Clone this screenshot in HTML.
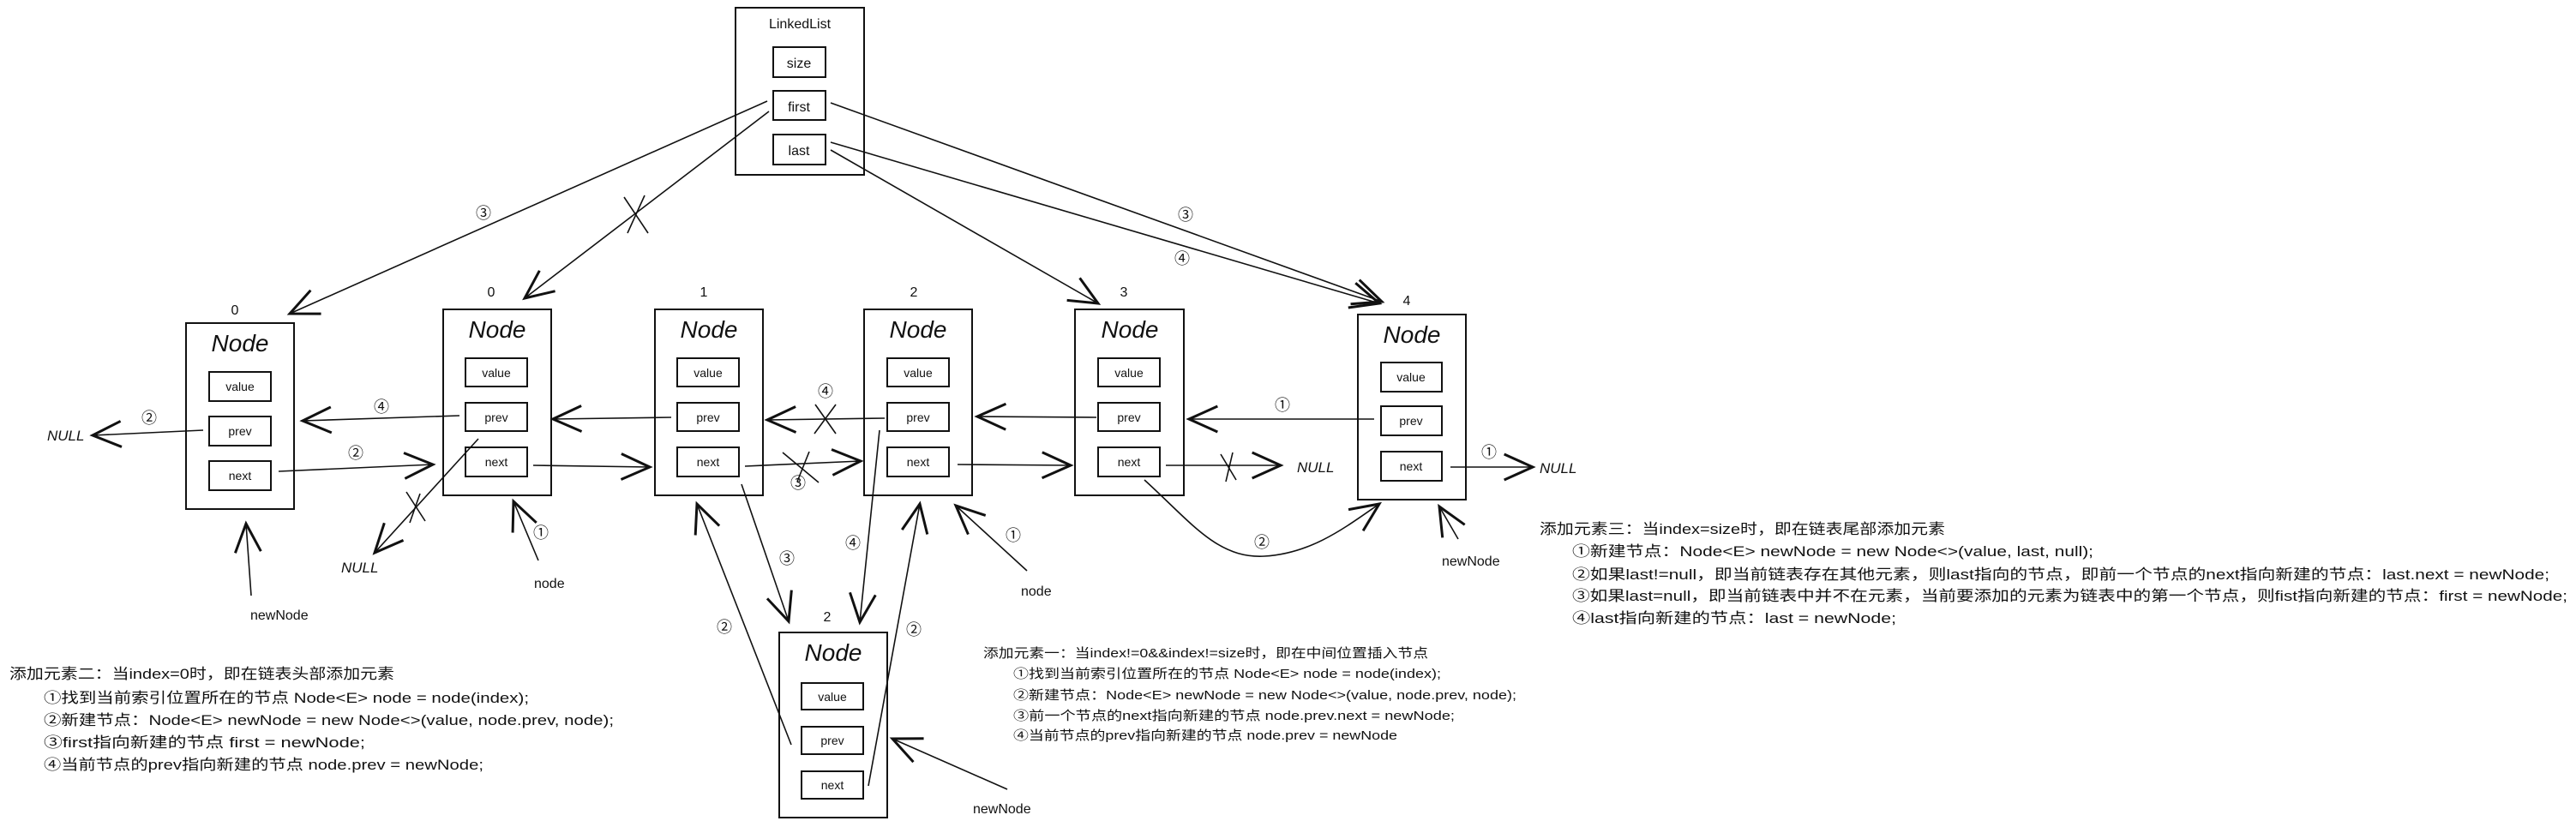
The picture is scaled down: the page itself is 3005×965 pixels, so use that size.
<!DOCTYPE html>
<html><head><meta charset="utf-8"><style>
html,body{margin:0;padding:0;background:#fff;}
svg{display:block;}
text{font-family:"Liberation Sans","Noto Sans CJK SC",sans-serif;fill:#111;}
.n{font-size:28px;font-style:italic;text-anchor:middle;}
.f{font-size:14px;text-anchor:middle;}
.c{font-size:18px;text-anchor:middle;}
.t{font-size:17px;}
.m{font-size:15px;}
</style></head><body>
<svg width="3005" height="965" viewBox="0 0 3005 965" xmlns="http://www.w3.org/2000/svg">
<defs>
<marker id="a" markerUnits="userSpaceOnUse" markerWidth="40" markerHeight="40" refX="0" refY="0" viewBox="-22 -12 24 24" orient="auto" overflow="visible">
<path d="M-20,-9 L0,0 L-20,9" fill="none" stroke="#111" stroke-width="1.8"/>
</marker>
</defs>
<g fill="none" stroke="#111" stroke-width="2">
<!-- LinkedList -->
<rect x="858" y="9" width="150" height="195"/>
<rect x="902" y="55" width="61" height="35"/>
<rect x="902" y="106" width="61" height="34"/>
<rect x="902" y="157" width="61" height="35"/>
<!-- nodes -->
<rect x="217" y="377" width="126" height="217"/>
<rect x="244" y="434" width="72" height="34"/><rect x="244" y="486" width="72" height="34"/><rect x="244" y="538" width="72" height="34"/>
<rect x="517" y="361" width="126" height="217"/>
<rect x="543" y="418" width="72" height="33"/><rect x="543" y="470" width="72" height="33"/><rect x="543" y="522" width="72" height="34"/>
<rect x="764" y="361" width="126" height="217"/>
<rect x="790" y="418" width="72" height="33"/><rect x="790" y="470" width="72" height="33"/><rect x="790" y="522" width="72" height="34"/>
<rect x="1008" y="361" width="126" height="217"/>
<rect x="1035" y="418" width="72" height="33"/><rect x="1035" y="470" width="72" height="33"/><rect x="1035" y="522" width="72" height="34"/>
<rect x="1254" y="361" width="127" height="217"/>
<rect x="1281" y="418" width="72" height="33"/><rect x="1281" y="470" width="72" height="33"/><rect x="1281" y="522" width="72" height="34"/>
<rect x="1584" y="367" width="126" height="216"/>
<rect x="1611" y="423" width="71" height="34"/><rect x="1611" y="474" width="71" height="34"/><rect x="1611" y="527" width="71" height="34"/>
<rect x="909" y="738" width="126" height="216"/>
<rect x="935" y="797" width="72" height="31"/><rect x="935" y="848" width="72" height="32"/><rect x="935" y="900" width="72" height="32"/>
</g>
<g fill="none" stroke="#111" stroke-width="1.6" marker-end="url(#a)">
<line x1="895" y1="118" x2="338" y2="366"/>
<line x1="897" y1="130" x2="612" y2="348"/>
<line x1="237" y1="502" x2="108" y2="508"/>
<line x1="536" y1="485" x2="353" y2="491"/>
<line x1="325" y1="550" x2="505" y2="542"/>
<line x1="558" y1="512" x2="437" y2="645"/>
<line x1="783" y1="487" x2="645" y2="489"/>
<line x1="622" y1="543" x2="758" y2="545"/>
<line x1="1032" y1="488" x2="895" y2="490"/>
<line x1="869" y1="544" x2="1004" y2="538"/>
<line x1="865" y1="565" x2="920" y2="725"/>
<line x1="923" y1="869" x2="813" y2="588"/>
<line x1="293" y1="695" x2="287" y2="611"/>
<line x1="628" y1="654" x2="599" y2="585"/>
<line x1="969" y1="175" x2="1281" y2="354"/>
<line x1="969" y1="120" x2="1612" y2="352"/>
<line x1="969" y1="166" x2="1609" y2="354"/>
<line x1="1026" y1="502" x2="1003" y2="726"/>
<line x1="1013" y1="917" x2="1073" y2="588"/>
<line x1="1198" y1="666" x2="1115" y2="590"/>
<line x1="1279" y1="487" x2="1140" y2="486"/>
<line x1="1117" y1="542" x2="1249" y2="543"/>
<line x1="1360" y1="543" x2="1494" y2="543"/>
<path d="M1335,560 C1390,610 1420,652 1475,649 C1530,646 1570,615 1609,588"/>
<line x1="1603" y1="489" x2="1387" y2="489"/>
<line x1="1692" y1="545" x2="1788" y2="545"/>
<line x1="1701" y1="629" x2="1679" y2="591"/>
<line x1="1175" y1="921" x2="1041" y2="862"/>
</g>
<g stroke="#111" stroke-width="1.6">
<line x1="728" y1="230" x2="756" y2="272"/><line x1="752" y1="228" x2="732" y2="272"/>
<line x1="474" y1="574" x2="496" y2="608"/><line x1="490" y1="576" x2="478" y2="610"/>
<line x1="951" y1="472" x2="975" y2="506"/><line x1="975" y1="472" x2="950" y2="506"/>
<line x1="913" y1="528" x2="955" y2="563"/><line x1="930" y1="562" x2="944" y2="527"/>
<line x1="1424" y1="530" x2="1442" y2="560"/><line x1="1438" y1="528" x2="1430" y2="562"/>
</g>
<!-- labels -->
<text x="933" y="33" class="f" style="font-size:16px">LinkedList</text>
<text x="932" y="79" class="f" style="font-size:16px">size</text>
<text x="932" y="130" class="f" style="font-size:16px">first</text>
<text x="932" y="181" class="f" style="font-size:16px">last</text>
<g class="n">
<text x="280" y="410" class="n">Node</text><text x="580" y="394" class="n">Node</text><text x="827" y="394" class="n">Node</text>
<text x="1071" y="394" class="n">Node</text><text x="1318" y="394" class="n">Node</text><text x="1647" y="400" class="n">Node</text>
<text x="972" y="771" class="n">Node</text>
</g>
<text x="280" y="456" class="f">value</text><text x="280" y="508" class="f">prev</text><text x="280" y="560" class="f">next</text>
<text x="579" y="440" class="f">value</text><text x="579" y="492" class="f">prev</text><text x="579" y="544" class="f">next</text>
<text x="826" y="440" class="f">value</text><text x="826" y="492" class="f">prev</text><text x="826" y="544" class="f">next</text>
<text x="1071" y="440" class="f">value</text><text x="1071" y="492" class="f">prev</text><text x="1071" y="544" class="f">next</text>
<text x="1317" y="440" class="f">value</text><text x="1317" y="492" class="f">prev</text><text x="1317" y="544" class="f">next</text>
<text x="1646" y="445" class="f">value</text><text x="1646" y="496" class="f">prev</text><text x="1646" y="549" class="f">next</text>
<text x="971" y="818" class="f">value</text><text x="971" y="869" class="f">prev</text><text x="971" y="921" class="f">next</text>
<g class="f" style="font-size:16px">
<text x="274" y="367">0</text><text x="573" y="346">0</text><text x="821" y="346">1</text><text x="1066" y="346">2</text>
<text x="1311" y="346">3</text><text x="1641" y="356">4</text><text x="965" y="725">2</text>
</g>
<g class="c">
<text x="564" y="255">③</text><text x="174" y="494">②</text><text x="445" y="481">④</text><text x="415" y="535">②</text>
<text x="631" y="628">①</text><text x="963" y="463">④</text><text x="931" y="570">③</text><text x="918" y="658">③</text>
<text x="845" y="738">②</text><text x="995" y="640">④</text><text x="1383" y="257">③</text><text x="1379" y="308">④</text>
<text x="1066" y="741">②</text><text x="1182" y="631">①</text><text x="1472" y="639">②</text><text x="1496" y="479">①</text>
<text x="1737" y="534">①</text>
</g>
<g style="font-size:17px;font-style:italic">
<text x="55" y="514">NULL</text><text x="398" y="668">NULL</text><text x="1513" y="551">NULL</text><text x="1796" y="552">NULL</text>
</g>
<g style="font-size:16px">
<text x="292" y="723">newNode</text><text x="623" y="686">node</text><text x="1191" y="695">node</text>
<text x="1682" y="660">newNode</text><text x="1135" y="949">newNode</text>
</g>
<!-- text block 2 -->
<g class="t">
<text x="11" y="792" textLength="449" lengthAdjust="spacingAndGlyphs">添加元素二：当index=0时，即在链表头部添加元素</text>
<text x="51" y="820" textLength="566" lengthAdjust="spacingAndGlyphs">①找到当前索引位置所在的节点 Node&lt;E&gt; node = node(index);</text>
<text x="51" y="846" textLength="665" lengthAdjust="spacingAndGlyphs">②新建节点：Node&lt;E&gt; newNode = new Node&lt;&gt;(value, node.prev, node);</text>
<text x="51" y="872" textLength="375" lengthAdjust="spacingAndGlyphs">③first指向新建的节点 first = newNode;</text>
<text x="51" y="898" textLength="513" lengthAdjust="spacingAndGlyphs">④当前节点的prev指向新建的节点 node.prev = newNode;</text>
</g>
<g class="m">
<text x="1147" y="767" textLength="519" lengthAdjust="spacingAndGlyphs">添加元素一：当index!=0&amp;&amp;index!=size时，即在中间位置插入节点</text>
<text x="1182" y="791" textLength="499" lengthAdjust="spacingAndGlyphs">①找到当前索引位置所在的节点 Node&lt;E&gt; node = node(index);</text>
<text x="1182" y="816" textLength="587" lengthAdjust="spacingAndGlyphs">②新建节点：Node&lt;E&gt; newNode = new Node&lt;&gt;(value, node.prev, node);</text>
<text x="1182" y="840" textLength="515" lengthAdjust="spacingAndGlyphs">③前一个节点的next指向新建的节点 node.prev.next = newNode;</text>
<text x="1182" y="863" textLength="448" lengthAdjust="spacingAndGlyphs">④当前节点的prev指向新建的节点 node.prev = newNode</text>
</g>
<g class="t">
<text x="1796" y="623" textLength="473" lengthAdjust="spacingAndGlyphs">添加元素三：当index=size时，即在链表尾部添加元素</text>
<text x="1834" y="649" textLength="608" lengthAdjust="spacingAndGlyphs">①新建节点：Node&lt;E&gt; newNode = new Node&lt;&gt;(value, last, null);</text>
<text x="1834" y="676" textLength="1140" lengthAdjust="spacingAndGlyphs">②如果last!=null，即当前链表存在其他元素，则last指向的节点，即前一个节点的next指向新建的节点：last.next = newNode;</text>
<text x="1834" y="701" textLength="1161" lengthAdjust="spacingAndGlyphs">③如果last=null，即当前链表中并不在元素，当前要添加的元素为链表中的第一个节点，则fist指向新建的节点：first = newNode;</text>
<text x="1834" y="727" textLength="378" lengthAdjust="spacingAndGlyphs">④last指向新建的节点：last = newNode;</text>
</g>
</svg>
</body></html>
